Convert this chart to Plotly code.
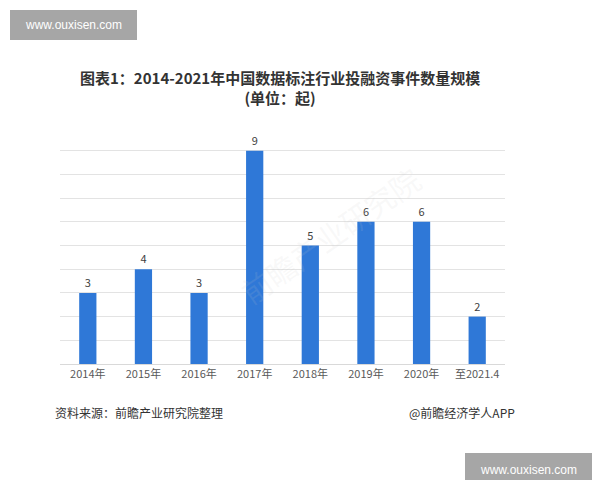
import plotly.graph_objects as go

categories = ["2014年", "2015年", "2016年", "2017年", "2018年", "2019年", "2020年", "至2021.4"]
values = [3, 4, 3, 9, 5, 6, 6, 2]

W, H = 600, 480
OFF = 8  # page body margin
L, T = 52, 119
pw, ph = 445, 237
R, B = W - L - pw, H - T - ph

def px(x):
    return (x - OFF - L) / pw

def py(y):
    return (T + ph - (y - OFF)) / ph

fig = go.Figure()
fig.add_trace(go.Bar(
    x=categories, y=values, width=0.31,
    marker=dict(color="#2F78D7", line=dict(width=0)),
    text=[str(v) for v in values], textposition="outside",
    textfont=dict(size=11, color="#404040", family="Noto Sans CJK SC"),
    cliponaxis=False,
))

font = "Noto Sans CJK SC"
fig.update_layout(
    width=W, height=H,
    margin=dict(l=L, r=R, t=T, b=B),
    paper_bgcolor="white", plot_bgcolor="white",
    showlegend=False,
    xaxis=dict(showgrid=False, showline=True, linecolor="#d9d9d9", linewidth=1,
               ticks="", tickfont=dict(size=11, color="#595959", family=font)),
    yaxis=dict(range=[0, 10], dtick=1, showgrid=True, gridcolor="#e3e3e3", gridwidth=1,
               showticklabels=False, zeroline=False, showline=False, ticks=""),
)

annotations = [
    dict(text="<b>图表1：2014-2021年中国数据标注行业投融资事件数量规模</b><br><b>(单位：起)</b>",
         x=px(280), y=py(87), xref="paper", yref="paper", xanchor="center", yanchor="middle",
         showarrow=False, font=dict(size=15, color="#333333", family=font), align="center"),
    dict(text="资料来源：前瞻产业研究院整理", x=px(53), y=py(412), xref="paper", yref="paper",
         xanchor="left", yanchor="middle", showarrow=False,
         font=dict(size=12, color="#333333", family=font)),
    dict(text="@前瞻经济学人APP", x=px(517), y=py(412), xref="paper", yref="paper",
         xanchor="right", yanchor="middle", showarrow=False,
         font=dict(size=12, color="#333333", family=font)),
    dict(text="前瞻产业研究院", x=px(330), y=py(235), xref="paper", yref="paper",
         textangle=-35, showarrow=False,
         font=dict(size=30, color="rgba(200,200,200,0.12)", family=font)),
]

shapes = [
    dict(type="rect", xref="paper", yref="paper", x0=px(10), x1=px(137), y0=py(40), y1=py(10),
         fillcolor="#a6a6a6", line=dict(width=0), layer="above"),
    dict(type="rect", xref="paper", yref="paper", x0=px(465), x1=px(592), y0=py(488), y1=py(453),
         fillcolor="#a6a6a6", line=dict(width=0), layer="above"),
]
annotations += [
    dict(text="www.ouxisen.com", x=px(73.5), y=py(25), xref="paper", yref="paper",
         xanchor="center", yanchor="middle", showarrow=False,
         font=dict(size=12, color="white", family="Liberation Sans")),
    dict(text="www.ouxisen.com", x=px(528.5), y=py(470), xref="paper", yref="paper",
         xanchor="center", yanchor="middle", showarrow=False,
         font=dict(size=12, color="white", family="Liberation Sans")),
]

fig.update_layout(annotations=annotations, shapes=shapes)
fig.write_html("out.html")
